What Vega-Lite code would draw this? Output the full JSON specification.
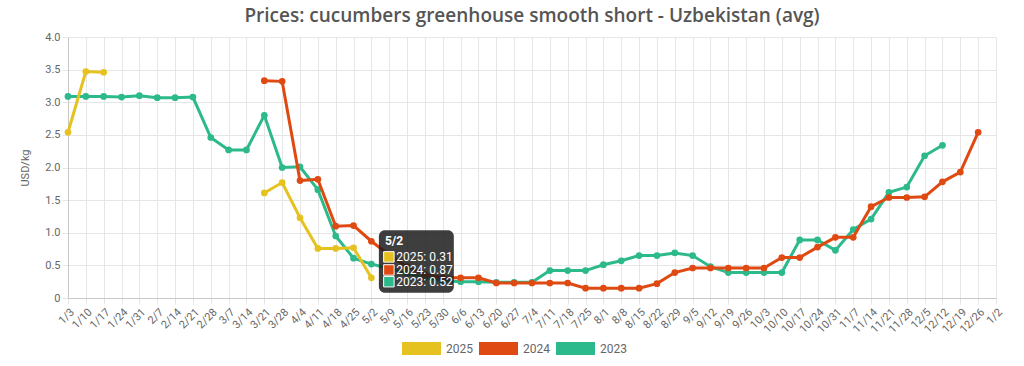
{
  "$schema": "https://vega.github.io/schema/vega-lite/v6.json",
  "width": 928,
  "height": 261,
  "autosize": {"type": "none"},
  "padding": {"left": 68, "top": 37, "right": 28, "bottom": 68},
  "background": "white",
  "title": {"text": "Prices: cucumbers greenhouse smooth short - Uzbekistan (avg)", "font": "Open Sans", "fontSize": 19, "fontWeight": 600, "color": "#555555", "offset": 5, "anchor": "middle"},
  "config": {
    "view": {"stroke": null},
    "axis": {"labelFont": "Roboto", "titleFont": "Roboto", "labelColor": "#666666", "titleColor": "#666666", "gridColor": "#e6e6e6", "tickColor": "#e6e6e6", "domainColor": "#c8c8c8"},
    "legend": {"orient": "none", "legendX": 334, "legendY": 292, "direction": "horizontal", "title": null, "symbolType": "M-1,-0.333H1V0.333H-1Z", "symbolSize": 1521, "symbolOpacity": 1, "symbolStrokeWidth": 0, "labelFontSize": 12, "labelColor": "#666666", "labelFont": "Roboto", "columnPadding": 6, "labelOffset": 5}
  },
  "datasets": {
    "y2023": [
      {"w": 0, "price": 3.09}, {"w": 1, "price": 3.09}, {"w": 2, "price": 3.09}, {"w": 3, "price": 3.08},
      {"w": 4, "price": 3.10}, {"w": 5, "price": 3.07}, {"w": 6, "price": 3.07}, {"w": 7, "price": 3.08},
      {"w": 8, "price": 2.46}, {"w": 9, "price": 2.27}, {"w": 10, "price": 2.27}, {"w": 11, "price": 2.80},
      {"w": 12, "price": 2.00}, {"w": 13, "price": 2.01}, {"w": 14, "price": 1.66}, {"w": 15, "price": 0.95},
      {"w": 16, "price": 0.61}, {"w": 17, "price": 0.52}, {"w": 18, "price": 0.45}, {"w": 19, "price": 0.38},
      {"w": 20, "price": 0.31}, {"w": 21, "price": 0.27}, {"w": 22, "price": 0.25}, {"w": 23, "price": 0.25},
      {"w": 24, "price": 0.24}, {"w": 25, "price": 0.24}, {"w": 26, "price": 0.24}, {"w": 27, "price": 0.42},
      {"w": 28, "price": 0.42}, {"w": 29, "price": 0.42}, {"w": 30, "price": 0.51}, {"w": 31, "price": 0.57},
      {"w": 32, "price": 0.65}, {"w": 33, "price": 0.65}, {"w": 34, "price": 0.69}, {"w": 35, "price": 0.65},
      {"w": 36, "price": 0.48}, {"w": 37, "price": 0.39}, {"w": 38, "price": 0.39}, {"w": 39, "price": 0.39},
      {"w": 40, "price": 0.39}, {"w": 41, "price": 0.89}, {"w": 42, "price": 0.89}, {"w": 43, "price": 0.73},
      {"w": 44, "price": 1.05}, {"w": 45, "price": 1.21}, {"w": 46, "price": 1.62}, {"w": 47, "price": 1.70},
      {"w": 48, "price": 2.18}, {"w": 49, "price": 2.34}
    ],
    "y2024": [
      {"w": 11, "price": 3.33}, {"w": 12, "price": 3.32}, {"w": 13, "price": 1.80}, {"w": 14, "price": 1.82},
      {"w": 15, "price": 1.10}, {"w": 16, "price": 1.11}, {"w": 17, "price": 0.87}, {"w": 18, "price": 0.66},
      {"w": 19, "price": 0.48}, {"w": 20, "price": 0.36}, {"w": 21, "price": 0.31}, {"w": 22, "price": 0.31},
      {"w": 23, "price": 0.31}, {"w": 24, "price": 0.23}, {"w": 25, "price": 0.23}, {"w": 26, "price": 0.23},
      {"w": 27, "price": 0.23}, {"w": 28, "price": 0.23}, {"w": 29, "price": 0.15}, {"w": 30, "price": 0.15},
      {"w": 31, "price": 0.15}, {"w": 32, "price": 0.15}, {"w": 33, "price": 0.22}, {"w": 34, "price": 0.39},
      {"w": 35, "price": 0.46}, {"w": 36, "price": 0.46}, {"w": 37, "price": 0.46}, {"w": 38, "price": 0.46},
      {"w": 39, "price": 0.46}, {"w": 40, "price": 0.62}, {"w": 41, "price": 0.62}, {"w": 42, "price": 0.78},
      {"w": 43, "price": 0.93}, {"w": 44, "price": 0.93}, {"w": 45, "price": 1.40}, {"w": 46, "price": 1.54},
      {"w": 47, "price": 1.54}, {"w": 48, "price": 1.55}, {"w": 49, "price": 1.78}, {"w": 50, "price": 1.93},
      {"w": 51, "price": 2.54}
    ],
    "y2025": [
      {"w": 0, "price": 2.54, "seg": "a"}, {"w": 1, "price": 3.47, "seg": "a"}, {"w": 2, "price": 3.46, "seg": "a"},
      {"w": 11, "price": 1.61, "seg": "b"}, {"w": 12, "price": 1.77, "seg": "b"}, {"w": 13, "price": 1.23, "seg": "b"},
      {"w": 14, "price": 0.76, "seg": "b"}, {"w": 15, "price": 0.76, "seg": "b"}, {"w": 16, "price": 0.77, "seg": "b"},
      {"w": 17, "price": 0.31, "seg": "b"}
    ],
    "tipBox": [
      {"w": 17.42, "w2": 21.62, "price": 1.04, "price2": 0.08, "tx": 17.76, "ty": 0.88, "t": "5/2"}
    ],
    "tipItems": [
      {"w": 17.98, "price": 0.63, "year": "2025", "label": "2025: 0.31", "tw": 18.40},
      {"w": 17.98, "price": 0.43, "year": "2024", "label": "2024: 0.87", "tw": 18.40},
      {"w": 17.98, "price": 0.25, "year": "2023", "label": "2023: 0.52", "tw": 18.40}
    ]
  },
  "encoding": {
    "x": {
      "field": "w", "type": "quantitative",
      "scale": {"domain": [0, 52], "nice": false, "zero": false},
      "axis": {
        "title": null,
        "values": [0,1,2,3,4,5,6,7,8,9,10,11,12,13,14,15,16,17,18,19,20,21,22,23,24,25,26,27,28,29,30,31,32,33,34,35,36,37,38,39,40,41,42,43,44,45,46,47,48,49,50,51,52],
        "labelExpr": "['1/3','1/10','1/17','1/24','1/31','2/7','2/14','2/21','2/28','3/7','3/14','3/21','3/28','4/4','4/11','4/18','4/25','5/2','5/9','5/16','5/23','5/30','6/6','6/13','6/20','6/27','7/4','7/11','7/18','7/25','8/1','8/8','8/15','8/22','8/29','9/5','9/12','9/19','9/26','10/3','10/10','10/17','10/24','10/31','11/7','11/14','11/21','11/28','12/5','12/12','12/19','12/26','1/2'][datum.value]",
        "labelAngle": -45, "labelFontSize": 11, "labelOverlap": false, "labelBound": false,
        "tickSize": 6, "grid": true, "labelPadding": 2
      }
    },
    "y": {
      "field": "price", "type": "quantitative",
      "scale": {"domain": [0, 4], "nice": false},
      "axis": {
        "title": "USD/kg", "titleFontSize": 11, "titleFontWeight": "normal", "titlePadding": 14,
        "values": [0, 0.5, 1, 1.5, 2, 2.5, 3, 3.5, 4],
        "labelExpr": "datum.value == 0 ? '0' : format(datum.value, '.1f')",
        "labelFontSize": 11, "tickSize": 6, "grid": true, "labelPadding": 2
      }
    }
  },
  "layer": [
    {
      "data": {"name": "y2023"},
      "mark": {"type": "line", "strokeWidth": 3, "point": {"filled": true, "size": 45, "opacity": 1}},
      "encoding": {
        "color": {"datum": "2023", "type": "nominal",
          "scale": {"domain": ["2025", "2024", "2023"], "range": ["#e6c220", "#df4a12", "#2cb98b"]},
          "legend": {"title": null}}
      }
    },
    {
      "data": {"name": "y2024"},
      "mark": {"type": "line", "strokeWidth": 3, "point": {"filled": true, "size": 45, "opacity": 1}},
      "encoding": {
        "color": {"datum": "2024", "type": "nominal", "legend": {"title": null}}
      }
    },
    {
      "data": {"name": "y2025"},
      "mark": {"type": "line", "strokeWidth": 3, "point": {"filled": true, "size": 45, "opacity": 1}},
      "encoding": {
        "color": {"datum": "2025", "type": "nominal", "legend": {"title": null}},
        "detail": {"field": "seg", "type": "nominal"}
      }
    },
    {
      "data": {"name": "tipBox"},
      "mark": {"type": "rect", "fill": "#1c1c1c", "fillOpacity": 0.85, "cornerRadius": 6},
      "encoding": {
        "x2": {"field": "w2"},
        "y2": {"field": "price2"}
      }
    },
    {
      "data": {"name": "tipBox"},
      "mark": {"type": "text", "color": "white", "font": "Roboto", "fontSize": 12, "fontWeight": "bold", "align": "left", "baseline": "middle"},
      "encoding": {
        "x": {"field": "tx", "type": "quantitative"},
        "y": {"field": "ty", "type": "quantitative"},
        "text": {"field": "t"}
      }
    },
    {
      "data": {"name": "tipItems"},
      "mark": {"type": "point", "shape": "square", "filled": true, "size": 110, "opacity": 1, "stroke": "white", "strokeWidth": 1},
      "encoding": {
        "color": {"field": "year", "type": "nominal", "legend": {"title": null}}
      }
    },
    {
      "data": {"name": "tipItems"},
      "mark": {"type": "text", "color": "white", "font": "Roboto", "fontSize": 12, "align": "left", "baseline": "middle"},
      "encoding": {
        "x": {"field": "tw", "type": "quantitative"},
        "text": {"field": "label"}
      }
    }
  ]
}
